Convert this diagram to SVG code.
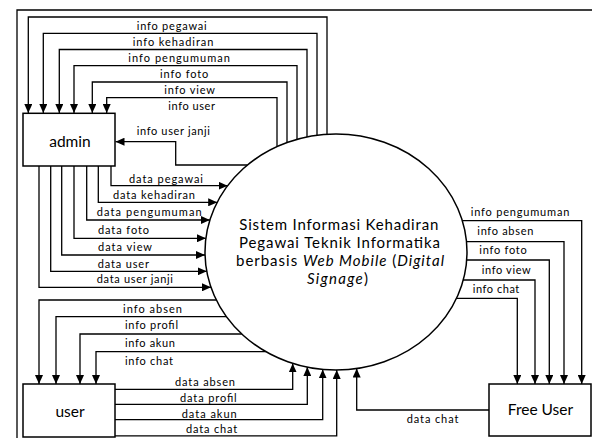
<svg xmlns="http://www.w3.org/2000/svg" width="592" height="438" viewBox="0 0 592 438">
<style>
.ln{fill:none;stroke:#000;stroke-width:1.3;marker-end:url(#arr)}
.frame{fill:none;stroke:#000;stroke-width:1.3}
.box{fill:#fff;stroke:#000;stroke-width:1.5}
.lb{font-family:Lato,"Liberation Sans",sans-serif;font-size:11px;fill:#000}
.bt{font-family:Lato,"Liberation Sans",sans-serif;font-size:15.5px;fill:#000;text-anchor:middle}
.ct{font-family:Lato,"Liberation Sans",sans-serif;font-size:15px;fill:#000}
.it{font-style:italic}
</style>
<defs>
<marker id="arr" viewBox="0 0 9 8" refX="9" refY="4" markerWidth="9" markerHeight="8" markerUnits="userSpaceOnUse" orient="auto">
<path d="M0,0 L9,4 L0,8 z" fill="#000"/>
</marker>
</defs>
<rect width="592" height="438" fill="#fff"/>
<path class="frame" d="M17 438 V10 H592"/>
<g id="connectors">
<path class="ln" d="M327 134.3 V17 H28.3 V113"/>
<path class="ln" d="M317 135.3 V33.3 H43.3 V113"/>
<path class="ln" d="M307 136.9 V49.5 H59.3 V113"/>
<path class="ln" d="M297 139.4 V65.7 H74 V113"/>
<path class="ln" d="M287 142.6 V82 H92.3 V113"/>
<path class="ln" d="M277 146.6 V97.7 H106.7 V113"/>
<path class="ln" d="M247.5 165 H175.7 V141.7 H115.5"/>
<path class="ln" d="M111 166 V185.7 H227.6"/>
<path class="ln" d="M98.3 166 V202.3 H217.2"/>
<path class="ln" d="M86.7 166 V220 H209.9"/>
<path class="ln" d="M74 166 V238.3 H205.9"/>
<path class="ln" d="M61.7 166 V255 H205"/>
<path class="ln" d="M50.7 166 V271.3 H206.8"/>
<path class="ln" d="M39 166 V287.3 H211"/>
<path class="ln" d="M216.3 300 H39 V384"/>
<path class="ln" d="M226.4 316.7 H56 V384"/>
<path class="ln" d="M241.8 334 H80 V384"/>
<path class="ln" d="M265.9 351.7 H96 V384"/>
<path class="ln" d="M115 389.3 H292.7 V363.4"/>
<path class="ln" d="M115 404.3 H307.3 V367.1"/>
<path class="ln" d="M115 419.7 H322.7 V369.4"/>
<path class="ln" d="M115 435.8 H336.7 V370"/>
<path class="ln" d="M489 410 H356.7 V368.5"/>
<path class="ln" d="M462 220.7 H581.7 V384"/>
<path class="ln" d="M466 241.7 H564 V384"/>
<path class="ln" d="M466 260 H549.3 V384"/>
<path class="ln" d="M463 280 H535 V384"/>
<path class="ln" d="M456 298.3 H517.3 V384"/>
</g>
<g id="labels">
<text class="lb" x="136.7" y="30" textLength="70" lengthAdjust="spacing">info pegawai</text>
<text class="lb" x="132.7" y="46" textLength="80.6" lengthAdjust="spacing">info kehadiran</text>
<text class="lb" x="128.3" y="62" textLength="101.7" lengthAdjust="spacing">info pengumuman</text>
<text class="lb" x="160" y="78" textLength="48.3" lengthAdjust="spacing">info foto</text>
<text class="lb" x="164.3" y="94" textLength="50.7" lengthAdjust="spacing">info view</text>
<text class="lb" x="168.3" y="110" textLength="46.7" lengthAdjust="spacing">info user</text>
<text class="lb" x="136.7" y="135" textLength="73.3" lengthAdjust="spacing">info user janji</text>
<text class="lb" x="129" y="182.7" textLength="74" lengthAdjust="spacing">data pegawai</text>
<text class="lb" x="113" y="199" textLength="82" lengthAdjust="spacing">data kehadiran</text>
<text class="lb" x="96.7" y="216" textLength="105" lengthAdjust="spacing">data pengumuman</text>
<text class="lb" x="98" y="234" textLength="51" lengthAdjust="spacing">data foto</text>
<text class="lb" x="98" y="251" textLength="54" lengthAdjust="spacing">data view</text>
<text class="lb" x="97.7" y="267.5" textLength="51.3" lengthAdjust="spacing">data user</text>
<text class="lb" x="96.7" y="283" textLength="76.3" lengthAdjust="spacing">data user janji</text>
<text class="lb" x="123" y="312.7" textLength="59" lengthAdjust="spacing">info absen</text>
<text class="lb" x="125" y="329" textLength="53" lengthAdjust="spacing">info profil</text>
<text class="lb" x="125" y="346.5" textLength="50" lengthAdjust="spacing">info akun</text>
<text class="lb" x="125" y="365" textLength="48" lengthAdjust="spacing">info chat</text>
<text class="lb" x="175" y="386" textLength="60" lengthAdjust="spacing">data absen</text>
<text class="lb" x="180" y="402" textLength="56.7" lengthAdjust="spacing">data profil</text>
<text class="lb" x="181.7" y="417.5" textLength="55" lengthAdjust="spacing">data akun</text>
<text class="lb" x="186" y="433" textLength="51.3" lengthAdjust="spacing">data chat</text>
<text class="lb" x="406.7" y="423" textLength="51.7" lengthAdjust="spacing">data chat</text>
<text class="lb" x="470.7" y="216" textLength="98.6" lengthAdjust="spacing">info pengumuman</text>
<text class="lb" x="477.3" y="235" textLength="56" lengthAdjust="spacing">info absen</text>
<text class="lb" x="479.3" y="253.5" textLength="47.4" lengthAdjust="spacing">info foto</text>
<text class="lb" x="481.7" y="273.5" textLength="49" lengthAdjust="spacing">info view</text>
<text class="lb" x="472.7" y="293" textLength="46.6" lengthAdjust="spacing">info chat</text>
</g>
<g id="process">
<ellipse cx="336" cy="252" rx="131" ry="118" fill="#fff" stroke="#000" stroke-width="1.5"/>
<text class="ct" x="239.3" y="230" textLength="199" lengthAdjust="spacing">Sistem Informasi Kehadiran</text>
<text class="ct" x="239" y="248" textLength="201" lengthAdjust="spacing">Pegawai Teknik Informatika</text>
<text class="ct" x="236" y="266" textLength="208" lengthAdjust="spacing">berbasis <tspan class="it">Web Mobile</tspan> (<tspan class="it">Digital</tspan></text>
<text class="ct" x="307" y="283.5" textLength="61" lengthAdjust="spacing"><tspan class="it">Signage</tspan>)</text>
</g>
<g id="admin">
<rect class="box" x="23" y="113.3" width="92" height="52.7"/>
<text class="bt" x="70" y="146.7">admin</text>
</g>
<g id="user">
<rect class="box" x="23" y="384" width="92" height="53"/>
<text class="bt" x="70" y="416.5">user</text>
</g>
<g id="free-user">
<rect class="box" x="489" y="384" width="102" height="52"/>
<text class="bt" x="540.5" y="415">Free User</text>
</g>
</svg>
